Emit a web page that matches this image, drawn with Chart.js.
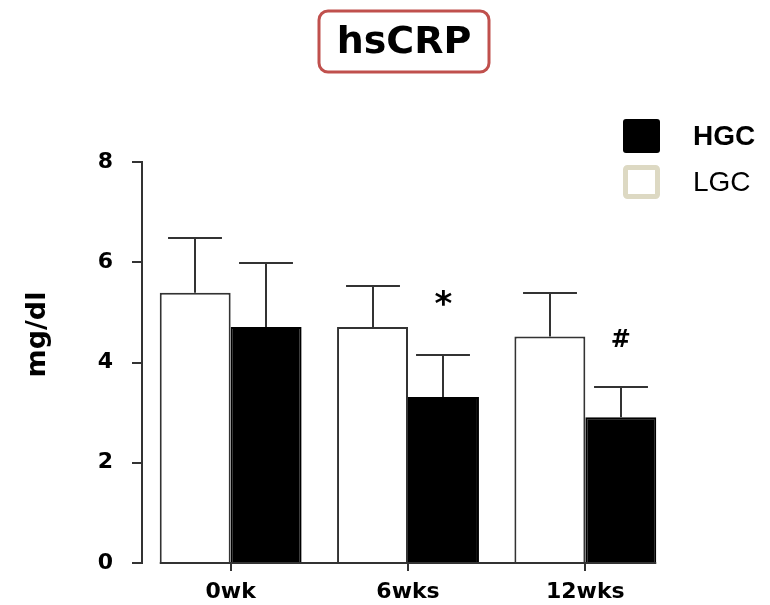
<!DOCTYPE html>
<html>
<head>
<meta charset="utf-8">
<script src="https://cdn.jsdelivr.net/npm/chart.js@4.4.1/dist/chart.umd.min.js"></script>
<style>
    body { margin: 0; background: #fff; }
    #wrap { width: 770px; height: 605px; }
</style>
</head>
<body>
<div id="wrap"><canvas id="myChart"></canvas></div>
<script>
// values (mg/dl)
var categories = ['0wk', '6wks', '12wks'];
var lgcValues = [5.39, 4.71, 4.52];
var lgcErrTop = [6.49, 5.53, 5.38];
var hgcValues = [4.71, 3.31, 2.91];
var hgcErrTop = [5.99, 4.15, 3.51];
var hgcMarks = ['', '*', '#'];
var yTicks = [0, 2, 4, 6, 8];

var chartTitle = 'hsCRP';
var yTitle = 'mg/dl';

var AXIS = '#333';

// title box, error bars, x baseline, y title, legend, marks
var extras = {
    id: 'extras',
    afterDatasetsDraw(chart) {
        const ctx = chart.ctx;
        const x = chart.scales.x, y = chart.scales.y;
        const y0 = y.getPixelForValue(0);
        ctx.save();

        // error bars (upper only)
        chart.data.datasets.forEach((ds, di) => {
            const meta = chart.getDatasetMeta(di);
            meta.data.forEach((bar, i) => {
                const top = Math.round(y.getPixelForValue(ds.errTop[i]));
                const bx = Math.round(bar.x);
                const cap = bar.width * 0.38;
                ctx.strokeStyle = AXIS;
                ctx.lineWidth = 2;
                ctx.beginPath();
                ctx.moveTo(bx, bar.y);
                ctx.lineTo(bx, top);
                ctx.moveTo(bx - cap, top);
                ctx.lineTo(bx + cap, top);
                ctx.stroke();
            });
        });

        // x baseline from first bar to last bar, with ticks at category centres
        const first = chart.getDatasetMeta(0).data[0];
        const lastMeta = chart.getDatasetMeta(1).data;
        const last = lastMeta[lastMeta.length - 1];
        ctx.strokeStyle = AXIS;
        ctx.lineWidth = 2;
        ctx.beginPath();
        ctx.moveTo(first.x - first.width / 2, y0);
        ctx.lineTo(last.x + last.width / 2, y0);
        categories.forEach((c, i) => {
            const px = Math.round(x.getPixelForValue(i));
            ctx.moveTo(px, y0);
            ctx.lineTo(px, y0 + 8);
        });
        ctx.stroke();

        // significance marks over HGC
        const hgcMeta = chart.getDatasetMeta(1).data;
        ctx.fillStyle = '#000';
        ctx.textAlign = 'center';
        ctx.textBaseline = 'alphabetic';
        hgcMarks.forEach((m, i) => {
            if (!m) return;
            const top = y.getPixelForValue(hgcErrTop[i]);
            ctx.font = m == '*' ? 'bold 34px "DejaVu Sans"' : 'bold 24px "DejaVu Sans"';
            ctx.fillText(m, hgcMeta[i].x, top - 40);
        });

        // y title
        ctx.save();
        ctx.translate(38, (y.top + y0) / 2 - 28);
        ctx.rotate(-Math.PI / 2);
        ctx.font = 'bold 27px "DejaVu Sans"';
        ctx.textBaseline = 'middle';
        ctx.fillText(yTitle, 0, 0);
        ctx.restore();

        // title in a rounded red box
        ctx.font = 'bold 38px "DejaVu Sans"';
        ctx.textBaseline = 'middle';
        ctx.fillText(chartTitle, 404, 43);
        ctx.strokeStyle = '#c0504d';
        ctx.lineWidth = 3;
        ctx.beginPath();
        ctx.roundRect(319, 11, 170, 61, 9);
        ctx.stroke();

        // legend: HGC first, then LGC
        const order = [1, 0];
        order.forEach((di, k) => {
            const ds = chart.data.datasets[di];
            const top = 119 + k * 46;
            if (di == 1) {
                ctx.fillStyle = '#000';
                ctx.beginPath();
                ctx.roundRect(623, top, 37, 34, 3);
                ctx.fill();
            } else {
                ctx.fillStyle = '#fff';
                ctx.strokeStyle = '#ddd9c3';
                ctx.lineWidth = 5;
                ctx.beginPath();
                ctx.roundRect(625.5, top + 2.5, 32, 29, 2);
                ctx.fill();
                ctx.stroke();
            }
            ctx.fillStyle = '#000';
            ctx.textAlign = 'left';
            ctx.textBaseline = 'middle';
            ctx.font = (di == 1 ? 'bold ' : '') + '28px "Liberation Sans"';
            ctx.fillText(ds.label, 693, top + 18);
        });

        ctx.restore();
    }
};

new Chart('myChart', {
    type: 'bar',
    data: {
        labels: categories,
        datasets: [
            {
                label: 'LGC',
                data: lgcValues,
                errTop: lgcErrTop,
                backgroundColor: '#fff',
                borderColor: AXIS,
                borderWidth: 2
            },
            {
                label: 'HGC',
                data: hgcValues,
                errTop: hgcErrTop,
                backgroundColor: '#000',
                borderColor: '#000',
                borderWidth: 2
            }
        ]
    },
    options: {
        responsive: true,
        maintainAspectRatio: false,
        animation: false,
        devicePixelRatio: 1,
        categoryPercentage: 0.8,
        barPercentage: 1.0,
        layout: { padding: { top: 162, right: 96, bottom: 0, left: 0 } },
        plugins: {
            legend: { display: false },
            tooltip: { enabled: false },
            title: { display: false }
        },
        scales: {
            x: {
                grid: { display: false, drawTicks: false },
                border: { display: false },
                ticks: { color: '#000', font: { family: 'DejaVu Sans', weight: 'bold', size: 22 }, padding: 16 },
                afterFit(scale) { scale.height = 42; }
            },
            y: {
                min: 0,
                max: 8,
                afterBuildTicks(scale) { scale.ticks = yTicks.map(v => ({ value: v })); },
                grid: { drawOnChartArea: false, tickLength: 10, color: AXIS, lineWidth: 2 },
                border: { color: AXIS, width: 2 },
                ticks: { color: '#000', font: { family: 'DejaVu Sans', weight: 'bold', size: 22 }, padding: 19 },
                afterFit(scale) { scale.width = 142; }
            }
        }
    },
    plugins: [extras]
});
</script>
</body>
</html>
